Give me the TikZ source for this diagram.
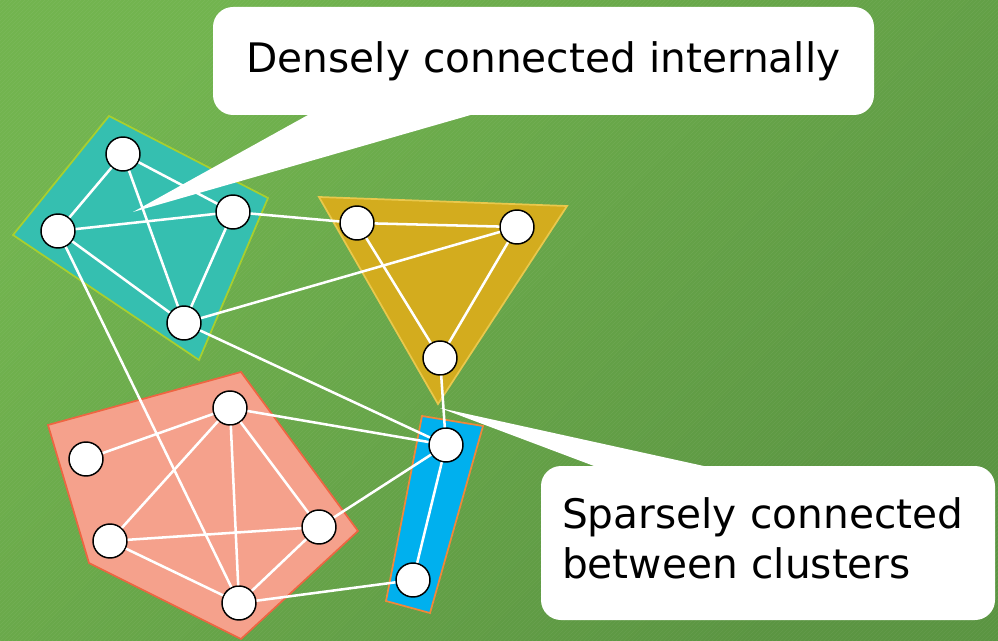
\documentclass[tikz,border=0pt]{standalone}
\usepackage{fontspec}
\setmainfont{DejaVu Sans}
\usetikzlibrary{patterns}

\definecolor{bgLight}{HTML}{72B44F}
\definecolor{bgDark}{HTML}{5B9542}
\definecolor{tealFill}{HTML}{35BFB0}
\definecolor{tealEdge}{HTML}{A8CF2E}
\definecolor{goldFill}{HTML}{D3AC1E}
\definecolor{goldEdge}{HTML}{E9C84C}
\definecolor{salmonFill}{HTML}{F5A18C}
\definecolor{salmonEdge}{HTML}{EE6542}
\definecolor{blueFill}{HTML}{00B0EE}
\definecolor{blueEdge}{HTML}{F0883A}

\tikzset{
  vtx/.style={circle, draw=black, fill=white, line width=1.1pt, minimum size=25.5pt, inner sep=0pt},
  link/.style={white, line width=1.9pt},
  cluster/.style={line width=1.3pt},
  bubble/.style={fill=white, rounded corners=15pt, font=\fontsize{30.5}{37.5}\selectfont},
}

\begin{document}
\begin{tikzpicture}[x=0.75pt,y=0.75pt,yscale=-1,xscale=1]
\useasboundingbox (0,0) rectangle (998,641);

% background
\shade [top color=bgLight, bottom color=bgDark, shading angle=45] (0,0) rectangle (998,641);
\fill [pattern=north east lines, pattern color=white, opacity=0.06] (0,0) rectangle (998,641);

%Shape: clusters
\draw [cluster, draw=tealEdge, fill=tealFill] (109,116) -- (268,198) -- (199,360) -- (13,235) -- cycle;
\draw [cluster, draw=goldEdge, fill=goldFill] (319,197) -- (567,206) -- (438,404) -- cycle;
\draw [cluster, draw=salmonEdge, fill=salmonFill] (48,425) -- (241,372) -- (358,531) -- (241,639) -- (89,563) -- cycle;
\draw [cluster, draw=blueEdge, fill=blueFill] (422,416) -- (483,426) -- (430,613) -- (386,601) -- cycle;

% vertices
\node [vtx] (a1) at (123,154) {};
\node [vtx] (a2) at (58,231) {};
\node [vtx] (a3) at (233,212) {};
\node [vtx] (a4) at (184,323) {};
\node [vtx] (b1) at (357,223) {};
\node [vtx] (b2) at (517,227) {};
\node [vtx] (b3) at (440,358) {};
\node [vtx] (p1) at (230,408) {};
\node [vtx] (p2) at (86,459) {};
\node [vtx] (p3) at (110,541) {};
\node [vtx] (p4) at (319,527) {};
\node [vtx] (p5) at (239,603) {};
\node [vtx] (c1) at (446,445) {};
\node [vtx] (c2) at (413,580) {};

% edges inside and between clusters
\foreach \u/\v in {a1/a2,a1/a3,a1/a4,a2/a3,a2/a4,a3/a4,
                   b1/b2,b1/b3,b2/b3,
                   p1/p2,p1/p3,p1/p4,p1/p5,p3/p4,p3/p5,p4/p5,
                   c1/c2,
                   a3/b1,a4/b2,a4/c1,a2/p5,b3/c1,p1/c1,p4/c1,p5/c2}
  \draw [link] (\u) -- (\v);

% callouts
\coordinate (denseTip) at (133,212);
\coordinate (sparseTip) at (440,408);
\fill [white] (317,110) -- (denseTip) -- (488,110) -- cycle;
\node [bubble, minimum width=495.75pt, minimum height=81pt] (dense) at (543.5,61) {Densely connected internally};

\fill [white] (610,472) -- (sparseTip) -- (731,472) -- cycle;
\node [bubble, text width=309pt, inner xsep=15.75pt, minimum height=115.5pt, text depth=45pt, align=left] (sparse) at (768,543) {Sparsely connected\\between clusters};

\end{tikzpicture}
\end{document}
